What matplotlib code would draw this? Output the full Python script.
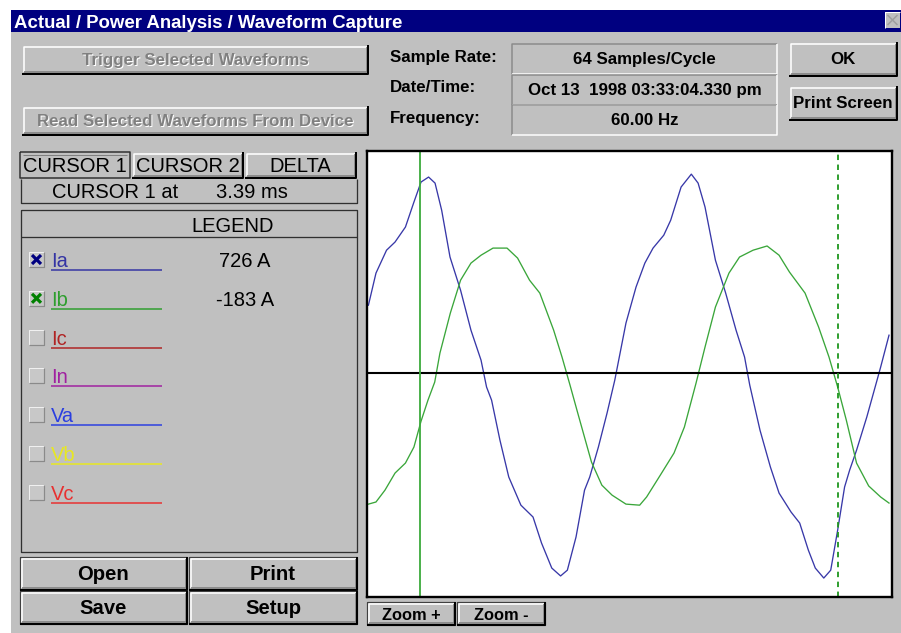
import matplotlib
matplotlib.use("Agg")
import matplotlib.pyplot as plt
from matplotlib.patches import Rectangle

plt.rcParams['font.family'] = ['Liberation Sans', 'DejaVu Sans']

# waveform capture (time in ms, current in A)
t_ia = [0.09, 0.57, 1.24, 1.78, 2.44, 2.98, 3.43, 3.91, 4.32, 4.74, 5.27, 5.94,
        6.60, 7.24, 7.59, 7.91, 8.44, 9.00, 9.77, 10.54, 11.08, 11.73, 12.29,
        12.72, 13.27, 13.81, 14.14, 14.69, 15.24, 15.73, 16.44, 17.08, 17.64,
        18.16, 18.84, 19.28, 19.94, 20.59, 21.02, 21.46, 22.12, 22.77, 23.43,
        23.97, 24.30, 24.95, 25.61, 26.16, 26.92, 27.47, 28.02, 28.46, 29.00,
        29.44, 29.88, 30.32, 30.64, 31.08, 31.73, 32.38, 32.61, 33.14]
ia = [258, 380, 467, 498, 555, 650, 726, 745, 722, 619, 441, 315,
      163, 49, -53, -103, -255, -395, -502, -547, -646, -741, -771,
      -749, -623, -445, -395, -281, -152, -27, 190, 327, 418,
      475, 524, 581, 707, 756, 722, 631, 429, 304, 163,
      61, -46, -217, -357, -456, -528, -570, -673, -741, -779,
      -749, -597, -433, -369, -293, -167, -27, 23, 144]

t_ib = [0.09, 0.57, 1.14, 1.78, 2.44, 2.98, 3.43, 3.87, 4.30, 4.63, 5.29, 5.94,
        6.60, 7.24, 8.00, 8.89, 9.56, 10.32, 10.97, 11.85, 12.38, 12.89, 13.38,
        14.25, 14.91, 15.56, 16.44, 17.31, 17.75, 18.62, 19.49, 20.15, 20.89,
        21.46, 22.12, 22.98, 23.65, 24.51, 25.40, 26.16, 26.82, 27.81, 28.67,
        29.33, 29.88, 30.43, 31.08, 31.85, 32.61, 33.14]
ib = [-498, -490, -445, -380, -342, -281, -183, -103, -34, 76, 228, 353,
      418, 448, 475, 475, 437, 353, 304, 163, 61, -46, -152,
      -338, -426, -464, -498, -502, -471, -388, -304, -205, -38,
      99, 251, 380, 441, 467, 483, 448, 384, 304, 175,
      61, -53, -179, -342, -429, -471, -494]

cursor1_ms = 3.39
cursor2_ms = 29.9
t_end = 33.33
y_lo, y_hi = -851, 844

legend_names = ['Ia', 'Ib', 'Ic', 'In', 'Va', 'Vb', 'Vc']
legend_colors = ['#3434a4', '#2e9e2e', '#b02424', '#a020a0', '#2a3ee0', '#e8e820', '#e83030']
legend_checked = [True, True, False, False, False, False, False]
cursor_values = ['726 A', '-183 A', '', '', '', '', '']

info_labels = ['Sample Rate:', 'Date/Time:', 'Frequency:']
info_values = ['64 Samples/Cycle', 'Oct 13  1998 03:33:04.330 pm', '60.00 Hz']

W, H = 901, 633
PX = 0.72
GRAY = '#c0c0c0'
DY = 1.5  # text sits a little high with va='center'

fig = plt.figure(figsize=(W / 100, H / 100), dpi=100)
fig.patch.set_facecolor('white')
ui = fig.add_axes([0, 0, 1, 1])
ui.set_xlim(0, W)
ui.set_ylim(H, 0)
ui.axis('off')


def box(x0, y0, x1, y1, fc=GRAY, ec='none', lw=1):
    ui.add_patch(Rectangle((x0, y0), x1 - x0, y1 - y0, facecolor=fc,
                           edgecolor=ec, linewidth=lw * PX))


def line(xs, ys, c, lw=1, **kw):
    ui.plot(xs, ys, color=c, lw=lw * PX, solid_capstyle='butt', **kw)


def raised(x0, y0, x1, y1, outline=True):
    box(x0, y0, x1, y1)
    if outline:
        line([x0, x1, x1, x0, x0], [y0, y0, y1, y1, y0], '#404040', 1.2)
    line([x0 + 1.5, x0 + 1.5, x1 - 1.5], [y1 - 2, y0 + 1.5, y0 + 1.5], 'white', 1.6)
    line([x0 + 1.5, x1 - 1.5, x1 - 1.5], [y1 - 2, y1 - 2, y0 + 1.5], '#808080', 1.6)
    line([x0, x1, x1], [y1, y1, y0], 'black', 2)


def sunken(x0, y0, x1, y1):
    box(x0, y0, x1, y1)
    line([x0, x0, x1], [y1, y0, y0], '#8a8a8a', 1.5)
    line([x0, x1, x1], [y1, y1, y0], 'white', 1.5)


def label(x, y, s, size=12.2, bold=True, color='black', ha='center', disabled=False):
    w = 'bold' if bold else 'normal'
    y = y + DY
    if disabled:
        ui.text(x + 1, y + 1, s, fontsize=size, fontweight=w, color='white', ha=ha, va='center')
        color = '#808080'
    ui.text(x, y, s, fontsize=size, fontweight=w, color=color, ha=ha, va='center')


# window body and title bar
box(11, 32, W, H)
box(11, 10, W, 32, fc='#000080')
ui.text(14, 21.5 + DY, 'Actual / Power Analysis / Waveform Capture', fontsize=13.4,
        fontweight='bold', color='white', ha='left', va='center')
box(885, 12, 900, 28)
line([885, 885, 900], [28, 12, 12], 'white', 1)
line([887.5, 897.5], [15, 25], '#a0a0a0', 1.5)
line([887.5, 897.5], [25, 15], '#a0a0a0', 1.5)

# top buttons
raised(22, 45, 368, 74, outline=False)
label(195, 59, 'Trigger Selected Waveforms', disabled=True)
raised(22, 106, 368, 135, outline=False)
label(195, 120, 'Read Selected Waveforms From Device', disabled=True)

for i, (lab, val) in enumerate(zip(info_labels, info_values)):
    yc = 56 + i * 30.5
    label(390, yc, lab, ha='left')
    sunken(512, 44 + i * 30.5, 777, 74 + i * 30.5)
    label(644.5, yc + 2, val)

raised(789, 42, 897, 76, outline=False)
label(843, 58, 'OK')
raised(789, 86, 897, 120, outline=False)
label(843, 102, 'Print Screen')

# cursor tabs
box(20, 152, 130, 178)
line([20, 130, 130, 20, 20], [152, 152, 178, 178, 152], '#303030', 1.5)
line([23, 127], [155, 155], '#808080', 1)
label(75, 165.5, 'CURSOR 1', size=14.5, bold=False)
raised(132, 152, 243, 178, outline=False)
label(187.5, 165.5, 'CURSOR 2', size=14.5, bold=False)
raised(245, 152, 356, 178, outline=False)
label(300.5, 165.5, 'DELTA', size=14.5, bold=False)

line([21, 21, 357, 357], [179, 203, 203, 179], '#303030', 1.3)
label(115, 191.5, 'CURSOR 1 at', size=14.5, bold=False)
label(252, 191.5, '3.39 ms', size=14.5, bold=False)

# legend panel
line([21, 357, 357, 21, 21], [210, 210, 552, 552, 210], '#303030', 1.3)
line([21, 357], [237, 237], '#303030', 1.3)
label(233, 225.5, 'LEGEND', size=14.5, bold=False)

for i, name in enumerate(legend_names):
    yu = 270 + i * 38.8
    yc = yu - 10
    box(29, yc - 8, 44, yc + 7, fc='#c8c8c8')
    line([29, 29, 44], [yc + 7, yc - 8, yc - 8], '#f0f0f0', 1)
    line([29, 44, 44], [yc + 7, yc + 7, yc - 8], '#8a8a8a', 1.2)
    if legend_checked[i]:
        xc = '#000080' if i == 0 else '#008000'
        line([32, 41], [yc - 5, yc + 4], xc, 3.2)
        line([32, 41], [yc + 4, yc - 5], xc, 3.2)
    ui.text(51, yc + DY, name, fontsize=14.5, color=legend_colors[i], ha='left', va='center')
    line([51, 162], [yu, yu], legend_colors[i], 1.5)
    if cursor_values[i]:
        label(245, yc, cursor_values[i], size=14.5, bold=False)

# bottom buttons
raised(20, 557, 187, 590)
label(103.5, 573.5, 'Open', size=14.6)
raised(189, 557, 357, 590)
label(273, 573.5, 'Print', size=14.6)
raised(20, 591, 187, 624)
label(103.5, 607.5, 'Save', size=14.6)
raised(189, 591, 357, 624)
label(273, 607.5, 'Setup', size=14.6)

raised(367, 602, 455, 625)
label(411, 614, 'Zoom +', size=11.8)
raised(457, 602, 545, 625)
label(501, 614, 'Zoom -', size=11.8)

# waveform plot
ax = fig.add_axes([367 / W, 1 - 597 / H, 525 / W, 446 / H])
ax.set_facecolor('white')
ax.plot(t_ia, ia, color='#3838a8', lw=0.95)
ax.plot(t_ib, ib, color='#3aa63a', lw=0.95)
ax.axhline(0, color='black', lw=1.5)
ax.axvline(cursor1_ms, color='#3caa3c', lw=1.3)
ax.axvline(cursor2_ms, color='#1e961e', lw=1.3, ls=(0, (3, 2.5)))
ax.set_xlim(0, t_end)
ax.set_ylim(y_lo, y_hi)
ax.set_xticks([])
ax.set_yticks([])
for s in ax.spines.values():
    s.set_linewidth(1.7)
    s.set_color('black')

fig.savefig('out.png', dpi=100)
